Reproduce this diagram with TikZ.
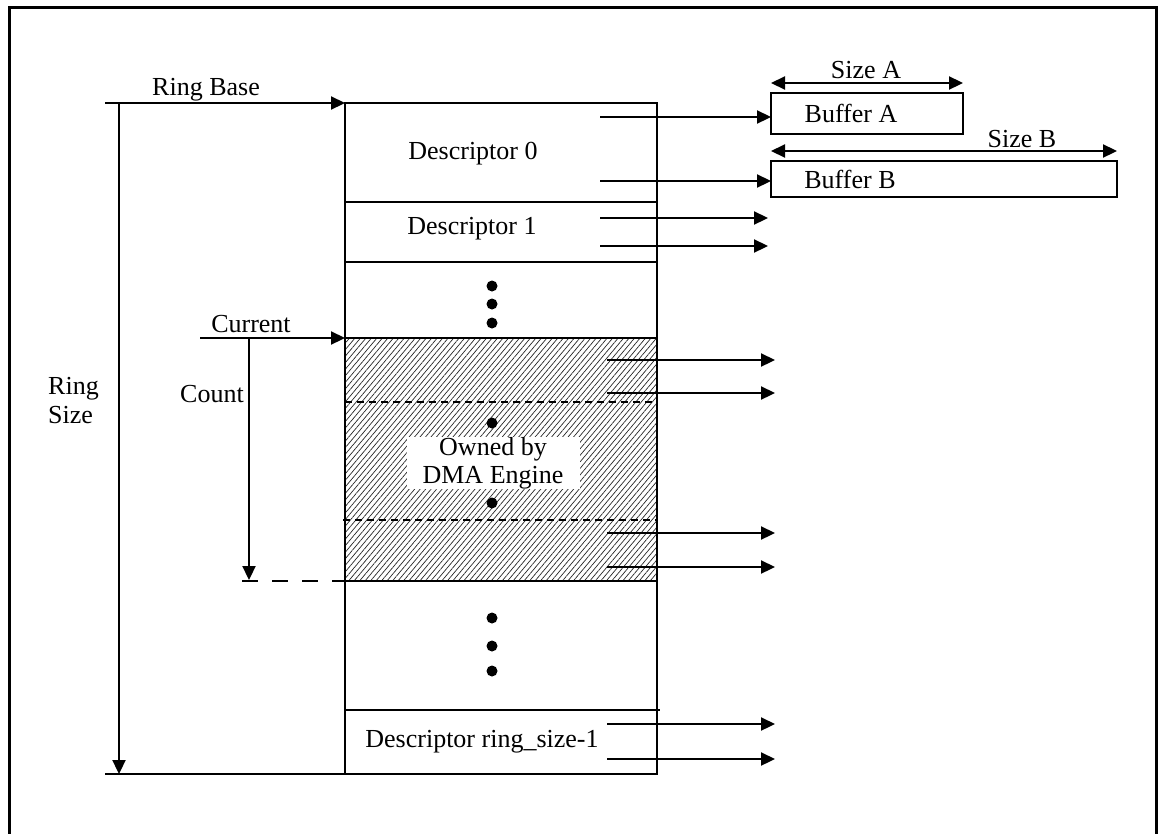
\documentclass[tikz,border=0pt]{standalone}
\usepackage{fontspec}
\setmainfont{Liberation Serif}
\usetikzlibrary{arrows.meta,patterns.meta}
\begin{document}
\begin{tikzpicture}[x=1pt,y=-1pt,
  ln/.style={line width=2.2pt},
  arr/.style={line width=2.2pt,-{Triangle[length=14pt,width=13pt]}},
  darr/.style={line width=2.2pt,{Triangle[length=14pt,width=13pt]}-{Triangle[length=14pt,width=13pt]}},
  lbl/.style={inner sep=0pt,anchor=base,font=\fontsize{26}{28}\selectfont},
  dotn/.style={circle,fill=black,inner sep=0pt,minimum size=11pt},
  box/.style={draw,line width=2.2pt,inner sep=0pt,outer sep=0pt,rectangle,anchor=north west},
  dsh/.style={line width=1.8pt,dash pattern=on 7pt off 5pt}
]
\useasboundingbox (0,0) rectangle (1158,833);
% outer frame (bottom edge lies outside the page)
\draw[line width=3pt] (9,860) -- (9,7) -- (1156,7) -- (1156,860);

% hatched region
\fill[pattern={Lines[angle=50,distance=4.2pt,line width=0.7pt]},pattern color=black!85] (345,338) rectangle (657,581);

% ring of descriptors
\node[box,minimum width=312pt,minimum height=671pt] (ring) at (345,103) {};
\coordinate (d0b) at (345,202);
\coordinate (d1b) at (345,262);
\coordinate (curT) at (345,338);
\coordinate (curB) at (345,581);
\coordinate (lastT) at (345,710);
\draw[ln] (d0b) -- (d0b -| ring.east);
\draw[ln] (d1b) -- (d1b -| ring.east);
\draw[ln] (curT) -- (curT -| ring.east);
\draw[ln] (curB) -- (curB -| ring.east);
\draw[ln] (lastT) -- (660,710);
\draw[dsh] (345,402) -- (658,402);
\draw[dsh] (343,520) -- (657,520);

% texts in ring
\node[lbl] (t0) at (473,159) {Descriptor 0};
\node[lbl] (t1) at (472,234) {Descriptor 1};
\node[lbl] (tl) at (482,747) {Descriptor ring\_size-1};
\node[fill=white,minimum width=173pt,minimum height=50pt,inner sep=0pt,align=center,
      font=\fontsize{26}{28}\selectfont] (owned) at (493,463) {Owned by\\DMA Engine};
\foreach \y [count=\i] in {286,304,323} \node[dotn] (da\i) at (492,\y) {};
\foreach \y [count=\i] in {423,503} \node[dotn] (db\i) at (492,\y) {};
\foreach \y [count=\i] in {618,646,671} \node[dotn] (dc\i) at (492,\y) {};

% ring base / ring size
\coordinate (rbS) at (105,103);
\coordinate (rsT) at (119,103);
\coordinate (rsB) at (119,774);
\coordinate (bS) at (105,774);
\draw[arr] (rbS) -- (ring.north west);
\node[lbl] (rbl) at (206,95) {Ring Base};
\draw[arr] (rsT) -- (rsB);
\draw[ln] (bS) -- (ring.south west);
\node[lbl,anchor=base west] (rs1) at (48,394) {Ring};
\node[lbl,anchor=base west] (rs2) at (48,423) {Size};

% current / count
\coordinate (cS) at (200,338);
\coordinate (cT) at (249,338);
\coordinate (cB) at (249,580);
\coordinate (cd) at (242,581);
\draw[arr] (cS) -- (curT);
\node[lbl] (curl) at (251,332) {Current};
\draw[arr] (cT) -- (cB);
\draw[line width=2pt,dash pattern=on 16pt off 14pt] (cd) -- (curB);
\node[lbl] (cntl) at (212,402) {Count};

% buffers
\node[box,minimum width=192pt,minimum height=41pt] (bufA) at (771,93) {};
\node[box,minimum width=346pt,minimum height=36pt] (bufB) at (771,161) {};
\node[lbl] (bA) at (851,122) {Buffer A};
\node[lbl] (bB) at (850,188) {Buffer B};
\coordinate (sA1) at (771,83);
\coordinate (sA2) at (963,83);
\coordinate (sB1) at (771,151);
\coordinate (sB2) at (1117,151);
\draw[darr] (sA1) -- (sA2);
\draw[darr] (sB1) -- (sB2);
\node[lbl] (szA) at (866,78) {Size A};
\node[lbl] (szB) at (1022,147) {Size B};

% pointer arrows
\coordinate (a1) at (600,117);
\coordinate (a2) at (600,181);
\draw[arr] (a1) -- (a1 -| bufA.west);
\draw[arr] (a2) -- (a2 -| bufB.west);
\foreach \y [count=\i] in {218,246} {
  \coordinate (p\i) at (600,\y);
  \coordinate (q\i) at (768,\y);
  \draw[arr] (p\i) -- (q\i);
}
\foreach \y [count=\i] in {360,393,533,567,724,759} {
  \coordinate (r\i) at (607,\y);
  \coordinate (s\i) at (775,\y);
  \draw[arr] (r\i) -- (s\i);
}
\end{tikzpicture}
\end{document}
